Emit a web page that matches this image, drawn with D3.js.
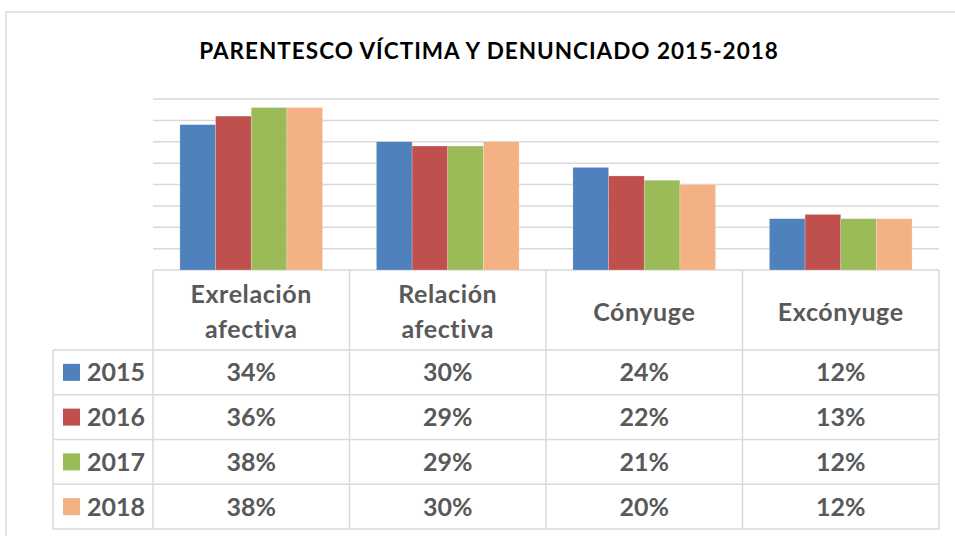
<!DOCTYPE html>
<html>
<head>
<meta charset="utf-8">
<script src="https://cdn.jsdelivr.net/npm/d3@7"></script>
<style>
  html, body { margin: 0; padding: 0; background: #fff; }
  svg { display: block; }
</style>
</head>
<body>
<svg id="chart" width="955" height="536"></svg>
<script>
const title = "PARENTESCO VÍCTIMA Y DENUNCIADO 2015-2018";
const categories = ["Exrelación afectiva", "Relación afectiva", "Cónyuge", "Excónyuge"];
const categoryLines = [["Exrelación", "afectiva"], ["Relación", "afectiva"], ["Cónyuge"], ["Excónyuge"]];
const years = ["2015", "2016", "2017", "2018"];
const v2015 = [34, 30, 24, 12];
const v2016 = [36, 29, 22, 13];
const v2017 = [38, 29, 21, 12];
const v2018 = [38, 30, 20, 12];
const colors = ["#4f81bd", "#c0504d", "#9bbb59", "#f4b183"];
const yTicks = [0, 5, 10, 15, 20, 25, 30, 35, 40];

const series = years.map((y, i) => ({ year: y, values: [v2015, v2016, v2017, v2018][i], color: colors[i] }));

const svg = d3.select("#chart");
const font = "Lato, 'Open Sans', sans-serif";
const gridColor = "#d9d9d9";
const textColor = "#595959";

const plotLeft = 153, plotRight = 939, plotTop = 99, plotBottom = 270;
const headerBottom = 350, tableBottom = 529, legendLeft = 53;

// outer frame
svg.append("path")
  .attr("d", `M6,536 V12 H955`)
  .attr("fill", "none").attr("stroke", gridColor).attr("stroke-width", 1.5);

// title
svg.append("text")
  .attr("x", 489).attr("y", 58.5)
  .attr("text-anchor", "middle")
  .attr("font-family", font).attr("font-weight", 700).attr("font-size", 22.5)
  .attr("letter-spacing", 1)
  .attr("fill", "#000")
  .text(title);

const x0 = d3.scaleBand().domain(categories).range([plotLeft, plotRight]).padding(0);
const outerPad = x0.bandwidth() * 0.137;
const x1 = d3.scaleBand().domain(years).range([outerPad, x0.bandwidth() - outerPad]).padding(0);
const y = d3.scaleLinear().domain([0, 40]).range([plotBottom, plotTop]);

// gridlines
svg.append("g").selectAll("line").data(yTicks).join("line")
  .attr("x1", plotLeft).attr("x2", plotRight)
  .attr("y1", d => y(d)).attr("y2", d => y(d))
  .attr("stroke", gridColor).attr("stroke-width", 1.5);

// bars
const groups = svg.append("g").selectAll("g").data(categories).join("g")
  .attr("transform", d => `translate(${x0(d)},0)`);
groups.selectAll("rect")
  .data((c, ci) => series.map(s => ({ year: s.year, value: s.values[ci], color: s.color })))
  .join("rect")
  .attr("x", d => x1(d.year))
  .attr("width", x1.bandwidth())
  .attr("y", d => y(d.value))
  .attr("height", d => y(0) - y(d.value))
  .attr("fill", d => d.color)
  .attr("stroke", "#ffffff").attr("stroke-opacity", 0.35).attr("stroke-width", 0.6);

// table
const rowY = d3.scaleBand().domain(years).range([headerBottom, tableBottom]).padding(0);
const table = svg.append("g");
const vx = categories.map(c => x0(c)).concat([plotRight]);
table.selectAll("line.v").data(vx).join("line").attr("class", "v")
  .attr("x1", d => d).attr("x2", d => d)
  .attr("y1", plotBottom).attr("y2", tableBottom)
  .attr("stroke", gridColor).attr("stroke-width", 1.5);
table.append("line")
  .attr("x1", legendLeft).attr("x2", legendLeft)
  .attr("y1", headerBottom).attr("y2", tableBottom)
  .attr("stroke", gridColor).attr("stroke-width", 1.5);
const hy = years.map(yr => rowY(yr)).concat([tableBottom]);
table.selectAll("line.h").data(hy).join("line").attr("class", "h")
  .attr("x1", legendLeft).attr("x2", plotRight)
  .attr("y1", d => d).attr("y2", d => d)
  .attr("stroke", gridColor).attr("stroke-width", 1.5);

// header text
const header = table.selectAll("text.hdr").data(categories).join("text").attr("class", "hdr")
  .attr("text-anchor", "middle")
  .attr("font-family", font).attr("font-weight", 700).attr("font-size", 25)
  .attr("letter-spacing", 0.6)
  .attr("fill", textColor);
header.each(function(c, i) {
  const lines = categoryLines[i];
  const cx = x0(c) + x0.bandwidth() / 2;
  const mid = (plotBottom + headerBottom) / 2;
  const lh = 35;
  const startY = mid - (lines.length - 1) * lh / 2 + 10.5;
  d3.select(this).selectAll("tspan").data(lines).join("tspan")
    .attr("x", cx).attr("y", (d, j) => startY + j * lh)
    .text(d => d);
});

// legend cells
const legendRows = table.selectAll("g.lg").data(series).join("g").attr("class", "lg")
  .attr("transform", d => `translate(0,${rowY(d.year)})`);
legendRows.append("rect")
  .attr("x", 63).attr("y", rowY.bandwidth() / 2 - 8.5)
  .attr("width", 17).attr("height", 17)
  .attr("fill", d => d.color);
legendRows.append("text")
  .attr("x", 87).attr("y", rowY.bandwidth() / 2 + 9)
  .attr("font-family", font).attr("font-weight", 700).attr("font-size", 25)
  .attr("fill", textColor)
  .text(d => d.year);

// values
legendRows.selectAll("text.val")
  .data(s => s.values.map((v, ci) => ({ v, c: categories[ci] })))
  .join("text").attr("class", "val")
  .attr("x", d => x0(d.c) + x0.bandwidth() / 2)
  .attr("y", rowY.bandwidth() / 2 + 9)
  .attr("text-anchor", "middle")
  .attr("font-family", font).attr("font-weight", 700).attr("font-size", 25)
  .attr("fill", textColor)
  .text(d => d.v + "%");
</script>
</body>
</html>
